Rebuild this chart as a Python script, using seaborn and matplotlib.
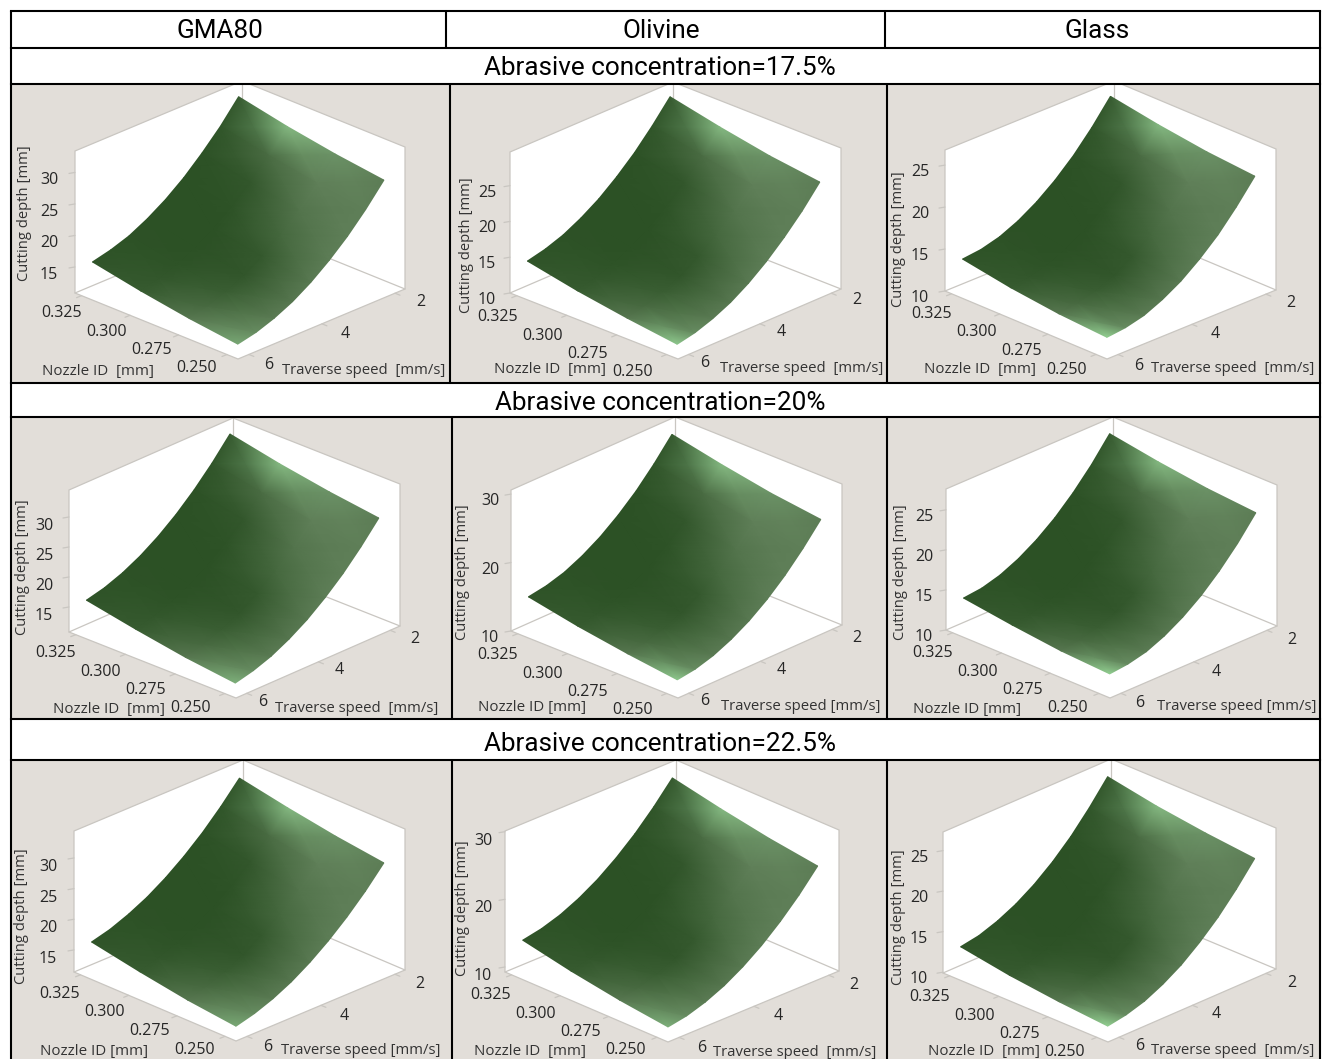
# 3x3 grid of cutting depth response surfaces, laid out as a table
import numpy as np
import matplotlib.pyplot as plt
from matplotlib.patches import Polygon, Rectangle
import seaborn as sns

sns.set_theme(style='white')

materials = ['GMA80', 'Olivine', 'Glass']
concentrations = ['Abrasive concentration=17.5%', 'Abrasive concentration=20%', 'Abrasive concentration=22.5%']

nozzle_levels = [0.325, 0.300, 0.275, 0.250]
speed_levels = [2, 2.5, 3, 3.5, 4, 4.5, 5, 5.5, 6]
nozzle_ticks = [0.325, 0.300, 0.275, 0.250]
speed_ticks = [2, 4, 6]

# cutting depth [mm], one row per nozzle level, one column per speed level
gma_175 = [[32.0, 28.5, 25.5, 22.8, 20.55, 18.7, 17.2, 16.2, 15.5],
           [30.4, 26.95, 23.9, 21.25, 19.0, 17.15, 15.7, 14.65, 14.0],
           [29.1, 25.65, 22.6, 19.95, 17.7, 15.9, 14.45, 13.4, 12.75],
           [28.1, 24.65, 21.6, 19.0, 16.75, 14.9, 13.5, 12.45, 11.8]]
olivine_175 = [[28.6, 25.6, 22.9, 20.6, 18.6, 17.0, 15.7, 14.8, 14.2],
               [27.1, 24.1, 21.4, 19.1, 17.15, 15.55, 14.3, 13.35, 12.8],
               [25.8, 22.8, 20.2, 17.9, 15.95, 14.35, 13.15, 12.25, 11.7],
               [24.9, 21.9, 19.3, 17.0, 15.05, 13.45, 12.25, 11.35, 10.8]]
glass_175 = [[25.8, 23.0, 20.55, 18.5, 16.8, 15.45, 14.45, 13.85, 13.6],
             [24.8, 22.0, 19.55, 17.5, 15.8, 14.45, 13.45, 12.85, 12.6],
             [24.0, 21.2, 18.8, 16.75, 15.05, 13.7, 12.75, 12.15, 11.9],
             [23.5, 20.75, 18.3, 16.3, 14.6, 13.3, 12.3, 11.75, 11.5]]
gma_20 = [[33.0, 29.45, 26.3, 23.55, 21.2, 19.25, 17.7, 16.55, 15.8],
          [31.3, 27.75, 24.6, 21.9, 19.55, 17.6, 16.1, 14.95, 14.2],
          [29.9, 26.35, 23.2, 20.5, 18.15, 16.2, 14.7, 13.55, 12.8],
          [28.8, 25.3, 22.15, 19.45, 17.1, 15.2, 13.65, 12.55, 11.8]]
olivine_20 = [[29.1, 25.95, 23.15, 20.8, 18.8, 17.2, 15.95, 15.15, 14.7],
              [27.6, 24.45, 21.7, 19.35, 17.35, 15.75, 14.55, 13.75, 13.3],
              [26.3, 23.2, 20.45, 18.1, 16.15, 14.6, 13.4, 12.6, 12.2],
              [25.4, 22.3, 19.55, 17.2, 15.25, 13.7, 12.5, 11.7, 11.3]]
glass_20 = [[26.4, 23.5, 21.0, 18.85, 17.1, 15.7, 14.65, 14.0, 13.75],
            [25.4, 22.5, 20.0, 17.9, 16.15, 14.8, 13.8, 13.15, 12.9],
            [24.6, 21.75, 19.25, 17.15, 15.4, 14.05, 13.05, 12.45, 12.2],
            [24.1, 21.25, 18.8, 16.7, 15.0, 13.65, 12.65, 12.1, 11.85]]
gma_225 = [[32.6, 29.25, 26.25, 23.65, 21.4, 19.5, 18.0, 16.8, 16.0],
           [31.1, 27.75, 24.75, 22.15, 19.9, 18.0, 16.5, 15.3, 14.5],
           [29.8, 26.45, 23.45, 20.85, 18.6, 16.7, 15.2, 14.0, 13.2],
           [28.8, 25.45, 22.5, 19.9, 17.65, 15.75, 14.25, 13.1, 12.3]]
olivine_225 = [[28.5, 25.35, 22.55, 20.15, 18.1, 16.45, 15.15, 14.25, 13.7],
               [27.0, 23.85, 21.05, 18.65, 16.6, 14.95, 13.65, 12.75, 12.2],
               [25.7, 22.55, 19.8, 17.4, 15.35, 13.7, 12.45, 11.55, 11.0],
               [24.7, 21.55, 18.8, 16.4, 14.4, 12.75, 11.5, 10.6, 10.1]]
glass_225 = [[26.0, 23.15, 20.6, 18.45, 16.65, 15.2, 14.1, 13.3, 12.9],
             [24.9, 22.05, 19.55, 17.4, 15.6, 14.15, 13.05, 12.3, 11.9],
             [24.1, 21.25, 18.8, 16.65, 14.85, 13.4, 12.35, 11.6, 11.2],
             [23.5, 20.7, 18.2, 16.1, 14.3, 12.9, 11.8, 11.1, 10.7]]

# how light the surface looks at each grid node, same grid as above
surface_shade = [[0.12, 0.06, 0.02, 0.01, 0.01, 0.01, 0.02, 0.03, 0.05],
                 [0.85, 0.30, 0.08, 0.03, 0.01, 0.01, 0.03, 0.08, 0.12],
                 [0.62, 0.50, 0.38, 0.25, 0.10, 0.07, 0.15, 0.28, 0.42],
                 [0.48, 0.50, 0.50, 0.48, 0.44, 0.42, 0.46, 0.58, 0.95]]
tip_shades = [0.75, 0.95, 1.0, 0.8, 0.95, 1.0, 0.75, 0.8, 1.0]

# axis ends of the drawn box (the box is padded around the data)
NOZZLE_FRONT, NOZZLE_LEFT = 0.2443, 0.3284
SPEED_FRONT, SPEED_RIGHT = 6.297, 1.726

shade_cmap = sns.blend_palette(['#2b5024', '#5f7f58', '#93d092'], as_cmap=True)
BOX = '#c9c6c1'
CELL = '#e2ded9'
TICK_FONT = ['Open Sans', 'DejaVu Sans']
HEAD_FONT = ['Roboto', 'Liberation Sans']

# layout of each panel in pixels: box corners, depth axis range, text anchors
panels = [
    dict(depth=gma_175, z=[15, 20, 25, 30], front=(238, 359), left=(75, 293), right=(405, 289), h=142, zlim=(10.87, 33.4),
         ztx=49, zdy=8, nt=(62, 313), st=(421, 302), nl=(98, 372), sl=(364, 371), dl=(25, 213),
         ntext='Nozzle ID  [mm]', stext='Traverse speed  [mm/s]'),
    dict(depth=olivine_175, z=[10, 15, 20, 25], front=(678, 359), left=(510, 293), right=(841, 289), h=141, zlim=(10, 29.7),
         ztx=487, zdy=7, nt=(498, 317), st=(857, 300), nl=(550, 370), sl=(802, 369), dl=(467, 245),
         ntext='Nozzle ID  [mm]', stext='Traverse speed  [mm/s]'),
    dict(depth=glass_175, z=[10, 15, 20, 25], front=(1107, 359), left=(945, 291), right=(1276, 290), h=141, zlim=(10, 26.8),
         ztx=920, zdy=7, nt=(932, 314), st=(1291, 303), nl=(980, 370), sl=(1233, 369), dl=(898, 239),
         ntext='Nozzle ID  [mm]', stext='Traverse speed  [mm/s]'),
    dict(depth=gma_20, z=[15, 20, 25, 30], front=(236, 698), left=(69, 632), right=(400, 626), h=142, zlim=(10.83, 34.5),
         ztx=44, zdy=9, nt=(56, 653), st=(415, 639), nl=(109, 709), sl=(357, 709), dl=(23, 567),
         ntext='Nozzle ID  [mm]', stext='Traverse speed  [mm/s]'),
    dict(depth=olivine_20, z=[10, 20, 30], front=(678, 698), left=(511, 631), right=(842, 625), h=141, zlim=(10, 30.6),
         ztx=490, zdy=7, nt=(498, 655), st=(857, 638), nl=(532, 708), sl=(801, 707), dl=(463, 572),
         ntext='Nozzle ID [mm]', stext='Traverse speed [mm/s]'),
    dict(depth=glass_20, z=[10, 15, 20, 25], front=(1110, 698), left=(946, 630), right=(1277, 626), h=141, zlim=(10, 27.6),
         ztx=924, zdy=7, nt=(933, 653), st=(1292, 640), nl=(967, 709), sl=(1237, 707), dl=(900, 572),
         ntext='Nozzle ID [mm]', stext='Traverse speed [mm/s]'),
    dict(depth=gma_225, z=[15, 20, 25, 30], front=(236, 1041), left=(74, 972), right=(405, 970), h=141, zlim=(11.4, 34.4),
         ztx=48, zdy=9, nt=(60, 994), st=(420, 984), nl=(94, 1052), sl=(361, 1051), dl=(22, 916),
         ntext='Nozzle ID [mm]', stext='Traverse speed [mm/s]'),
    dict(depth=olivine_225, z=[10, 20, 30], front=(668, 1042), left=(505, 972), right=(839, 971), h=141, zlim=(9.26, 30.1),
         ztx=483, zdy=9, nt=(491, 995), st=(854, 985), nl=(530, 1052), sl=(795, 1052), dl=(463, 908),
         ntext='Nozzle ID  [mm]', stext='Traverse speed  [mm/s]'),
    dict(depth=glass_225, z=[10, 15, 20, 25], front=(1108, 1042), left=(943, 973), right=(1276, 969), h=141, zlim=(9.9, 27.3),
         ztx=919, zdy=7, nt=(930, 997), st=(1292, 983), nl=(984, 1051), sl=(1233, 1050), dl=(899, 917),
         ntext='Nozzle ID  [mm]', stext='Traverse speed  [mm/s]'),
]


def project(p, nozzle, speed, depth):
    # axonometric view of (nozzle, speed, depth) onto the page
    nf = (np.asarray(nozzle) - NOZZLE_FRONT) / (NOZZLE_LEFT - NOZZLE_FRONT)
    sf = (SPEED_FRONT - np.asarray(speed)) / (SPEED_FRONT - SPEED_RIGHT)
    zf = (np.asarray(depth) - p['zlim'][0]) / (p['zlim'][1] - p['zlim'][0])
    fx, fy = p['front']
    x = fx + nf * (p['left'][0] - fx) + sf * (p['right'][0] - fx)
    y = fy + nf * (p['left'][1] - fy) + sf * (p['right'][1] - fy) - zf * p['h']
    return x, y


def tick_label(ax, x, y, text):
    ax.text(x, y, text, ha='center', va='center', fontsize=11.5, color='#262626', family=TICK_FONT, zorder=4)


def axis_title(ax, pos, text, size, rotation=0):
    ax.text(*pos, text, ha='center', va='center', rotation=rotation, fontsize=size,
            color='#333333', family=TICK_FONT, zorder=4)


def draw_panel(ax, p, tip):
    zlo, zhi = p['zlim']
    corners = [(NOZZLE_LEFT, SPEED_FRONT, zlo), (NOZZLE_LEFT, SPEED_FRONT, zhi), (NOZZLE_LEFT, SPEED_RIGHT, zhi),
               (NOZZLE_FRONT, SPEED_RIGHT, zhi), (NOZZLE_FRONT, SPEED_RIGHT, zlo), (NOZZLE_FRONT, SPEED_FRONT, zlo)]
    hexagon = [project(p, *c) for c in corners]
    ax.add_patch(Polygon(hexagon, closed=True, facecolor='white', edgecolor=BOX, lw=0.9, zorder=1))

    # back edges of the box
    back_floor = project(p, NOZZLE_LEFT, SPEED_RIGHT, zlo)
    for c in [corners[0], corners[2], corners[4]]:
        x, y = project(p, *c)
        ax.plot([back_floor[0], x], [back_floor[1], y], color=BOX, lw=0.9, zorder=1.5)

    # the surface itself
    nn, ss = np.meshgrid(nozzle_levels, speed_levels, indexing='ij')
    x, y = project(p, nn, ss, np.array(p['depth']))
    shade = np.array(surface_shade, dtype=float)
    shade[-1, -1] = tip
    ax.pcolormesh(x, y, shade, cmap=shade_cmap, vmin=0, vmax=1, shading='gouraud', zorder=2)

    # tick marks and tick labels
    for z in p['z']:
        tx, ty = project(p, NOZZLE_LEFT, SPEED_FRONT, z)
        ax.plot([tx - 6, tx], [ty + 1, ty], color=BOX, lw=0.9, zorder=1.5)
        tick_label(ax, p['ztx'], ty + p['zdy'], str(z))
    for i, n in enumerate(nozzle_ticks):
        tx, ty = project(p, n, SPEED_FRONT, zlo)
        ax.plot([tx - 5, tx], [ty + 2, ty], color=BOX, lw=0.9, zorder=1.5)
        tick_label(ax, p['nt'][0] + 45 * i, p['nt'][1] + 18.5 * i, f'{n:.3f}')
    for i, s in enumerate(speed_ticks):
        tx, ty = project(p, NOZZLE_FRONT, s, zlo)
        ax.plot([tx + 5, tx], [ty + 2, ty], color=BOX, lw=0.9, zorder=1.5)
        tick_label(ax, p['st'][0] - 76 * i, p['st'][1] + 31.5 * i, str(s))

    axis_title(ax, p['nl'], p['ntext'], 10.9)
    axis_title(ax, p['sl'], p['stext'], 10.7)
    axis_title(ax, p['dl'], 'Cutting depth [mm]', 10.6, rotation=90)


fig = plt.figure(figsize=(13.25, 10.59), dpi=100)
ax = fig.add_axes([0, 0, 1, 1])
ax.set_autoscale_on(False)
ax.set_xlim(0, 1325)
ax.set_ylim(1059, 0)
ax.axis('off')

# grey cells behind the panels
for y0, y1 in [(84, 383), (417, 719), (760, 1059)]:
    ax.add_patch(Rectangle((11, y0), 1309, y1 - y0, facecolor=CELL, edgecolor='none', zorder=0))

for p, tip in zip(panels, tip_shades):
    draw_panel(ax, p, tip)

# white heading rows cover whatever pokes out of the grey cells
for y0, y1 in [(11, 84), (383, 417), (719, 760)]:
    ax.add_patch(Rectangle((11, y0), 1309, y1 - y0, facecolor='white', edgecolor='none', zorder=3))

# table rules
for y in [11, 48, 84, 383, 417, 719, 760]:
    ax.plot([11, 1320], [y, y], color='black', lw=1.5, solid_capstyle='projecting', zorder=5)
for x in [11, 1320]:
    ax.plot([x, x], [11, 1059], color='black', lw=1.5, zorder=5)
for x in [446, 885]:
    ax.plot([x, x], [11, 48], color='black', lw=1.5, zorder=5)
for x0, x1, y0, y1 in [(450, 887, 84, 383), (452, 887, 417, 719), (452, 887, 760, 1059)]:
    ax.plot([x0, x0], [y0, y1], color='black', lw=1.5, zorder=5)
    ax.plot([x1, x1], [y0, y1], color='black', lw=1.5, zorder=5)

for x, name in zip([220, 661, 1097], materials):
    ax.text(x, 31, name, ha='center', va='center', fontsize=18.8, color='black', family=HEAD_FONT, zorder=6)
for y, name in zip([68, 403, 744], concentrations):
    ax.text(660, y, name, ha='center', va='center', fontsize=18.8, color='black', family=HEAD_FONT, zorder=6)

fig.savefig('out.png', dpi=100)
